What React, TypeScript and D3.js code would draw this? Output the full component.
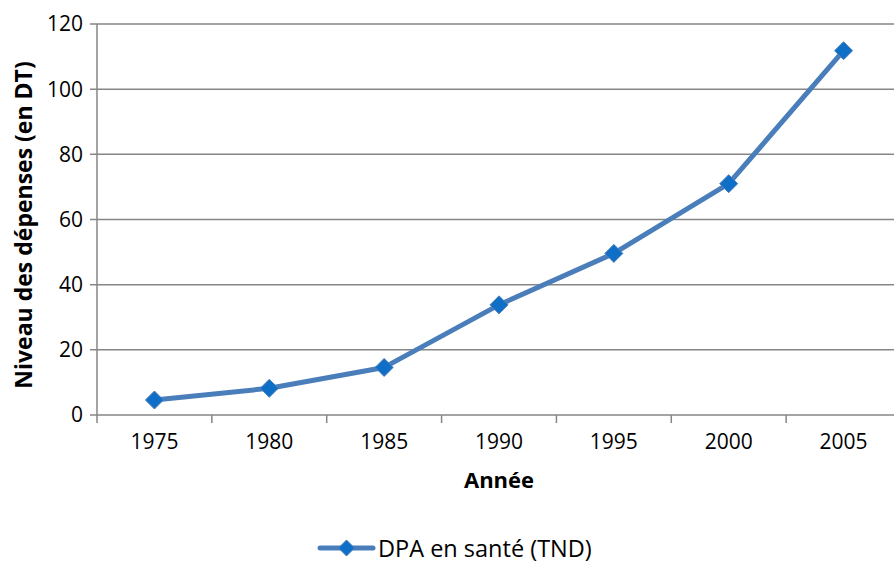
import React from "react";
import * as d3 from "d3";

const years = ["1975", "1980", "1985", "1990", "1995", "2000", "2005"];
const values = [4.6, 8.2, 14.6, 33.8, 49.6, 71.0, 111.8];
const yTicks = [0, 20, 40, 60, 80, 100, 120];
const seriesName = "DPA en santé (TND)";
const xTitle = "Année";
const yTitle = "Niveau des dépenses (en DT)";

const W = 894;
const H = 563;
const left = 97;
const right = 901;
const top = 24;
const bottom = 415;
const font = "'Open Sans', sans-serif";
const gridColor = "#868686";
const lineColor = "#4A7EBB";
const markerColor = "#0F6FC6";

export default function App() {
  const x = d3.scaleBand<string>().domain(years).range([left, right]).padding(0);
  const y = d3.scaleLinear().domain([0, 120]).range([bottom, top]);
  const line = d3
    .line<number>()
    .x((_, i) => (x(years[i]) as number) + x.bandwidth() / 2)
    .y((d) => y(d));
  const diamond = (cx: number, cy: number, r: number) =>
    `M${cx},${cy - r}L${cx + r},${cy}L${cx},${cy + r}L${cx - r},${cy}Z`;
  const xBoundaries = years.map((yr) => x(yr) as number).concat([right]);

  return (
    <svg
      width={W}
      height={H}
      style={{ position: "absolute", left: 0, top: 0, background: "#fff" }}
      fontFamily={font}
    >
      <rect x={0} y={0} width={W} height={H} fill="#fff" />
      {yTicks.map((t) => (
        <g key={t}>
          <line x1={90} x2={right} y1={y(t)} y2={y(t)} stroke={gridColor} strokeWidth={1.5} />
          <text x={83} y={y(t)} dy="0.35em" textAnchor="end" fontSize={21} fill="#000">
            {t}
          </text>
        </g>
      ))}
      <line x1={left} x2={left} y1={top} y2={bottom} stroke={gridColor} strokeWidth={1.5} />
      {xBoundaries.map((bx, i) => (
        <line key={i} x1={bx} x2={bx} y1={bottom} y2={bottom + 8} stroke={gridColor} strokeWidth={1.5} />
      ))}
      {years.map((yr) => (
        <text
          key={yr}
          x={(x(yr) as number) + x.bandwidth() / 2}
          y={442}
          dy="0.35em"
          textAnchor="middle"
          fontSize={21}
          fill="#000"
        >
          {yr}
        </text>
      ))}
      <text x={(left + right) / 2} y={480} dy="0.35em" textAnchor="middle" fontSize={22} fontWeight="bold">
        {xTitle}
      </text>
      <text
        transform={`translate(24,225) rotate(-90)`}
        dy="0.35em"
        textAnchor="middle"
        fontSize={23}
        fontWeight="bold"
      >
        {yTitle}
      </text>
      <path d={line(values) || ""} fill="none" stroke={lineColor} strokeWidth={5} strokeLinejoin="round" />
      {values.map((v, i) => (
        <path
          key={i}
          d={diamond((x(years[i]) as number) + x.bandwidth() / 2, y(v), 9)}
          fill={markerColor}
          stroke={lineColor}
          strokeWidth={1}
        />
      ))}
      <g>
        <line x1={320} x2={373} y1={548} y2={548} stroke={lineColor} strokeWidth={5} strokeLinecap="round" />
        <path d={diamond(346.5, 548, 8)} fill={markerColor} stroke={lineColor} strokeWidth={1} />
        <text x={378} y={549} dy="0.35em" fontSize={23.5} fill="#000">
          {seriesName}
        </text>
      </g>
    </svg>
  );
}
